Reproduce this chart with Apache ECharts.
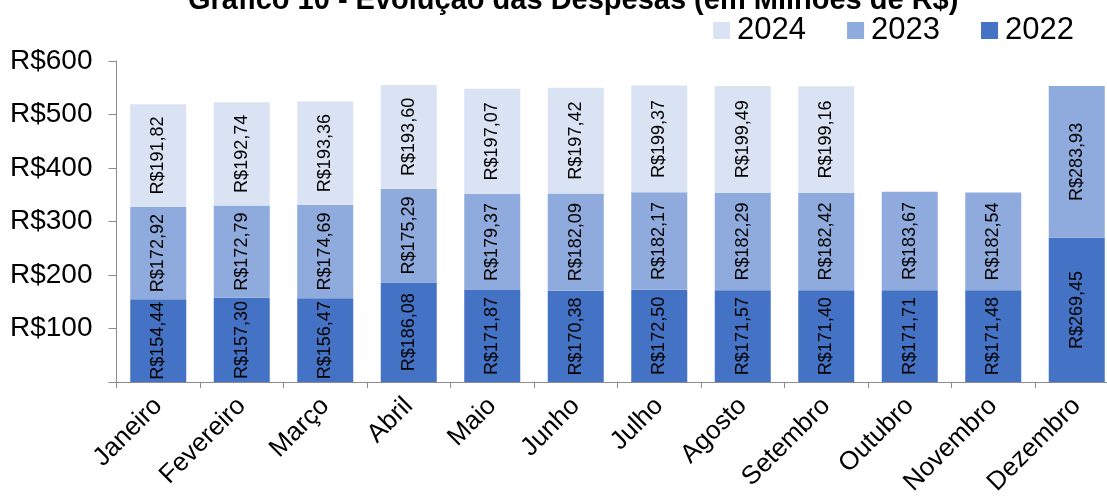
<!DOCTYPE html>
<html>
<head>
<meta charset="utf-8">
<script src="https://cdn.jsdelivr.net/npm/echarts@6/dist/echarts.min.js"></script>
<style>
html,body{margin:0;padding:0;background:#fff;}
#chart{width:1107px;height:497px;}
</style>
</head>
<body>
<div id="chart"></div>
<script>
const titleText = 'Gráfico 10 - Evolução das Despesas (em Milhões de R$)';
const months = ['Janeiro','Fevereiro','Março','Abril','Maio','Junho','Julho','Agosto','Setembro','Outubro','Novembro','Dezembro'];
const v2022 = [154.44,157.30,156.47,186.08,171.87,170.38,172.50,171.57,171.40,171.71,171.48,269.45];
const v2023 = [172.92,172.79,174.69,175.29,179.37,182.09,182.17,182.29,182.42,183.67,182.54,283.93];
const v2024 = [191.82,192.74,193.36,193.60,197.07,197.42,199.37,199.49,199.16,null,null,null];
const yTicks = [0,100,200,300,400,500,600];

const FONT = '"Liberation Sans", Arial, sans-serif';
const fmt = v => 'R$' + v.toFixed(2).replace('.', ',');

function mkSeries(name, data, color) {
  return {
    name: name, type: 'bar', stack: 'total', data: data, barWidth: 56,
    itemStyle: { color: color },
    label: {
      show: true, position: 'inside', rotate: 90,
      fontFamily: FONT, fontSize: 18, color: '#000',
      formatter: p => (p.value == null ? '' : fmt(p.value))
    },
    emphasis: { disabled: true }
  };
}

const chart = echarts.init(document.getElementById('chart'), null, { renderer: 'canvas' });
chart.setOption({
  animation: false,
  backgroundColor: '#fff',
  title: {
    text: titleText, left: 183, top: -19,
    textStyle: { fontFamily: FONT, fontSize: 29, fontWeight: 'bold', color: '#000' }
  },
  legend: {
    data: ['2024', '2023', '2022'],
    right: 28, top: 10,
    itemWidth: 17, itemHeight: 17, itemGap: 41,
    icon: 'rect',
    textStyle: { fontFamily: FONT, fontSize: 31, color: '#000', padding: [0, 0, 0, 2] }
  },
  grid: { left: 116.5, top: 61, width: 1002, height: 321, containLabel: false, outerBoundsMode: 'none' },
  xAxis: {
    type: 'category', data: months,
    axisLine: { lineStyle: { color: '#8c8c8c', width: 1 } },
    axisTick: { show: true, length: 6, alignWithLabel: false, lineStyle: { color: '#8c8c8c' } },
    axisLabel: { rotate: 45, fontFamily: FONT, fontSize: 26, color: '#000', margin: 20, interval: 0 }
  },
  yAxis: {
    type: 'value', min: yTicks[0], max: yTicks[yTicks.length - 1], interval: 100,
    splitLine: { show: false },
    axisLine: { show: true, lineStyle: { color: '#8c8c8c', width: 1 } },
    axisTick: { show: true, length: 8, lineStyle: { color: '#8c8c8c' } },
    axisLabel: {
      fontFamily: FONT, fontSize: 28, color: '#000', margin: 24,
      formatter: v => (v === 0 ? '' : 'R$' + v)
    }
  },
  series: [
    mkSeries('2022', v2022, '#4472C4'),
    mkSeries('2023', v2023, '#8FAADC'),
    mkSeries('2024', v2024, '#DAE3F3')
  ]
});
</script>
</body>
</html>
